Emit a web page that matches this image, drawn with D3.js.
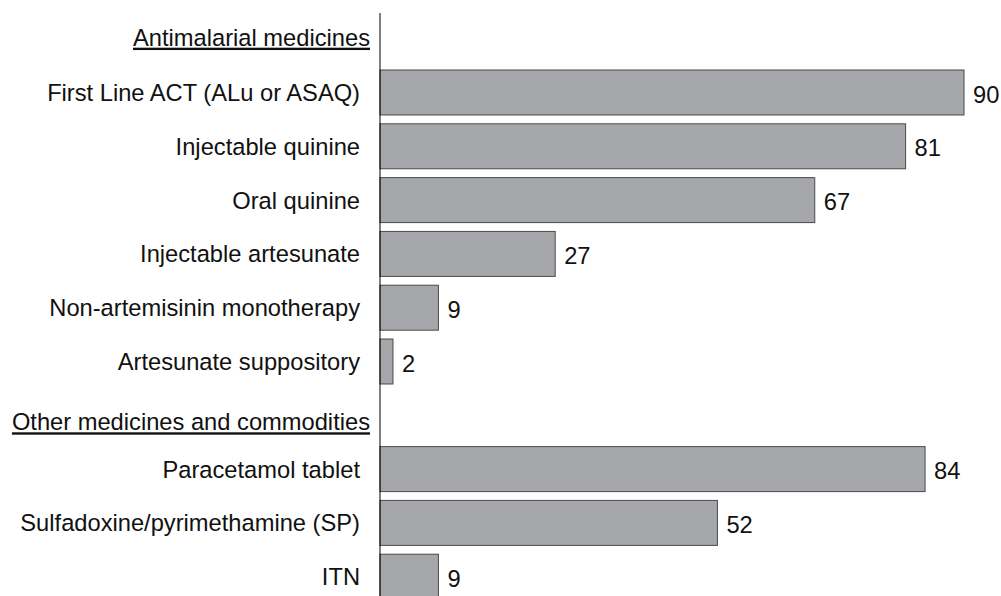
<!DOCTYPE html>
<html>
<head>
<meta charset="utf-8">
<script src="https://cdn.jsdelivr.net/npm/d3@7"></script>
<style>
  html, body { margin: 0; padding: 0; background: #fff; }
  svg { display: block; font-family: "Liberation Sans", Arial, sans-serif; }
</style>
</head>
<body>
<svg id="chart" width="1001" height="596"></svg>
<script>
// Row order, top to bottom; section headings have no value
const rows = [
  "Antimalarial medicines",
  "First Line ACT (ALu or ASAQ)",
  "Injectable quinine",
  "Oral quinine",
  "Injectable artesunate",
  "Non-artemisinin monotherapy",
  "Artesunate suppository",
  "Other medicines and commodities",
  "Paracetamol tablet",
  "Sulfadoxine/pyrimethamine (SP)",
  "ITN"
];
const headings = ["Antimalarial medicines", "Other medicines and commodities"];
const items = [
  "First Line ACT (ALu or ASAQ)",
  "Injectable quinine",
  "Oral quinine",
  "Injectable artesunate",
  "Non-artemisinin monotherapy",
  "Artesunate suppository",
  "Paracetamol tablet",
  "Sulfadoxine/pyrimethamine (SP)",
  "ITN"
];
const values = [90, 81, 67, 27, 9, 2, 84, 52, 9];

const data = items.map((name, i) => ({ name, value: values[i] }));

const svg = d3.select("#chart");
const axisX = 380;
const fontSize = 23.7;

const x = d3.scaleLinear().domain([0, 90]).range([axisX, 964]);
const y = d3.scaleBand().domain(rows).range([11.8, 11.8 + 11 * 53.8]).paddingInner(0.164).paddingOuter(0.082);
const mid = d => y(d) + y.bandwidth() / 2;

// Bars
svg.append("g")
  .selectAll("rect")
  .data(data)
  .join("rect")
  .attr("x", x(0))
  .attr("y", d => y(d.name))
  .attr("width", d => x(d.value) - x(0))
  .attr("height", y.bandwidth())
  .attr("fill", "#a6a7aa")
  .attr("stroke", "#4a4a4a")
  .attr("stroke-width", 1);

// Value labels
svg.append("g")
  .selectAll("text")
  .data(data)
  .join("text")
  .attr("x", d => x(d.value) + 9)
  .attr("y", d => mid(d.name) + 10)
  .attr("font-size", fontSize)
  .attr("fill", "#111")
  .text(d => d.value);

// Category labels
svg.append("g")
  .selectAll("text")
  .data(items)
  .join("text")
  .attr("x", axisX - 20)
  .attr("y", d => mid(d) + 8.5)
  .attr("text-anchor", "end")
  .attr("font-size", fontSize)
  .attr("fill", "#111")
  .text(d => d);

// Section headings (underlined); the second sits a little lower in its row
svg.append("g")
  .selectAll("text")
  .data(headings)
  .join("text")
  .attr("x", axisX - 10)
  .attr("y", (d, i) => mid(d) + (i === 0 ? 7 : 15))
  .attr("text-anchor", "end")
  .attr("font-size", fontSize)
  .attr("fill", "#111")
  .attr("text-decoration", "underline")
  .text(d => d);

// Vertical category axis line
svg.append("line")
  .attr("x1", axisX).attr("x2", axisX)
  .attr("y1", 13).attr("y2", 596)
  .attr("stroke", "#000")
  .attr("stroke-width", 1);
</script>
</body>
</html>
